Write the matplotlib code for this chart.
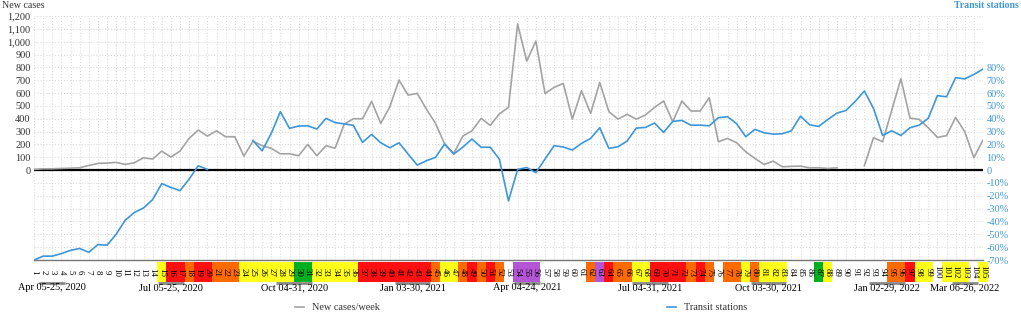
import matplotlib
matplotlib.use("Agg")
import matplotlib.pyplot as plt
from matplotlib.lines import Line2D
from matplotlib.ticker import FuncFormatter, MultipleLocator

plt.rcParams['font.family'] = ['Liberation Serif', 'DejaVu Serif']

# --- data -------------------------------------------------------------
weeks = list(range(1, 106))

new_cases = [5, 10, 10, 13, 15, 18, 36, 52, 55, 60,
             44, 57, 96, 86, 148, 101, 148, 247, 312, 265,
             306, 260, 260, 109, 225, 190, 169, 127, 127, 112,
             200, 112, 190, 171, 358, 400, 400, 535, 364, 494,
             701, 584, 597, 475, 364, 203, 130, 265, 306, 403,
             348, 438, 488, 1138, 849, 1005, 597, 644, 675, 397,
             618, 442, 683, 455, 397, 434, 397, 429, 488, 538,
             377, 538, 460, 460, 564, 221, 247, 213, 143, 91,
             44, 70, 26, 29, 31, 18, 18, 13, 18, None,
             None, 34, 252, 221, 466, 711, 405, 395, 330, 255,
             268, 410, 299, 96, 234]

transit = [-70, -67, -67, -65, -62.5, -61, -64, -58, -58.5, -50,
           -39, -33, -29.5, -23, -10.5, -13.5, -16, -7, 3.4, 0.5,
           None, None, None, None, 23, 15, 28.6, 45.5, 32.5, 34.3,
           34.5, 32, 40.3, 37, 36, 34.8, 21.6, 27.8, 21.3, 17.4,
           21.3, 12.5, 3.9, 7.3, 9.9, 20.3, 12.5, 17.9, 24.2, 17.8,
           17.8, 8.5, -24, 0.5, 2, -2, 8.6, 19, 18, 15.6,
           20.8, 24.7, 33, 16.9, 18.2, 22.6, 32.7, 33.2, 36.6, 29.4,
           37.9, 38.7, 35, 35, 34.5, 40.8, 41.6, 36.1, 26, 31.7,
           29.1, 28, 28.3, 30.6, 42, 35.3, 34, 39.5, 44.4, 46.5,
           53.5, 61.6, 48, 27, 30.6, 27, 33, 35, 40.3, 58,
           57.1, 72, 71, 74.5, 78.7]

# alert level of each week: W none, Y yellow, O orange, R red, G green, P purple
week_level = list("WWWWWWWWWWWWWW" "Y" "RR" "O" "RR" "OOO" "YYYYYY" "GG"
                  "YYYYY" "RRRRRRRR" "O" "YY" "O" "R" "O" "R" "O" "W" "PPP"
                  "WWWWW" "O" "P" "R" "OO" "YY" "RRRR" "O" "R" "O" "W" "OO"
                  "Y" "O" "YYY" "WWW" "G" "Y" "WWWWWW" "OO" "R" "YY" "W"
                  "YYY" "W" "Y")

period_labels = ["Apr 05-25, 2020", "Jul 05-25, 2020", "Oct 04-31, 2020",
                 "Jan 03-30, 2021", "Apr 04-24, 2021", "Jul 04-31, 2021",
                 "Oct 03-30, 2021", "Jan 02-29, 2022", "Mar 06-26, 2022"]
period_start = [2, 15, 28, 41, 54, 67, 80, 93, 102]
period_end = [4, 17, 31, 44, 56, 70, 83, 96, 104]

level_colors = {"Y": "#ffff1a", "O": "#ff6a00", "R": "#ff1010",
                "G": "#00b020", "P": "#b455d6"}

GRAY = "#a3a3a3"
BLUE = "#3d96da"
TXT = "#333333"
FS = 7.4

# --- figure -----------------------------------------------------------
W, H = 1021, 313
fig = plt.figure(figsize=(W / 100, H / 100), dpi=100)

x0, x1 = 34, 983
ax = fig.add_axes([x0 / W, (H - 260) / H, (x1 - x0) / W, (260 - 16) / H])
ax.set_xlim(1, 105)
ax.set_ylim(-700, 1200)
ax.xaxis.set_major_locator(MultipleLocator(1))
ax.grid(True, color="#dddddd", linestyle=":", linewidth=0.8)
ax.set_axisbelow(True)
ax.tick_params(axis="x", length=0, labelbottom=False)
ax.tick_params(axis="y", length=0, labelsize=FS, colors=TXT, pad=2.5)
ax.set_yticks(range(0, 1201, 100))
ax.yaxis.set_major_formatter(FuncFormatter(lambda v, p: f"{int(v):,}"))
# keep the gridlines below zero too
ax.set_yticks(range(-700, 1201, 100), minor=True)
ax.grid(True, which="minor", axis="y", color="#dddddd", linestyle=":", linewidth=0.8)
ax.tick_params(axis="y", which="minor", length=0)
for s in ["left", "right", "top"]:
    ax.spines[s].set_visible(False)
ax.spines["bottom"].set_color("#777777")
ax.spines["bottom"].set_linewidth(1.0)

ax.axhline(0, color="black", linewidth=1.6, zorder=3)
ax.plot(weeks, [float("nan") if v is None else v for v in new_cases],
        color=GRAY, linewidth=1.2, zorder=4)

ax2 = ax.twinx()
ax2.set_ylim(-70, 120)
ax2.set_yticks(range(-70, 81, 10))
ax2.yaxis.set_major_formatter(FuncFormatter(lambda v, p: "0" if v == 0 else f"{int(v)}%"))
ax2.tick_params(axis="y", length=0, labelsize=FS, colors=BLUE, pad=2.5)
for s in ax2.spines.values():
    s.set_visible(False)
ax2.plot(weeks, [float("nan") if v is None else v for v in transit],
         color=BLUE, linewidth=1.2, zorder=5)

fig.text(2 / W, 1 - 6 / H, "New cases", fontsize=7.2, color=TXT, va="center", ha="left")
fig.text(1019 / W, 1 - 6 / H, "Transit stations", fontsize=7, color=BLUE,
         va="center", ha="right", fontweight="bold")

# --- week band ------------------------------------------------------
half = (x1 - x0) / 104 / 2
bax = fig.add_axes([(x0 - half) / W, (H - 282) / H, (x1 - x0 + 2 * half) / W, 20 / H])
bax.set_xlim(0.5, 105.5)
bax.set_ylim(0, 1)
bax.axis("off")
for w, lvl in zip(weeks, week_level):
    if lvl != "W":
        bax.bar(w, 1, width=1, bottom=0, color=level_colors[lvl], linewidth=0)
    bax.text(w, 0.5, str(w), rotation=-90, ha="center", va="center",
             fontsize=6.4, color="black")

for lab, a, b in zip(period_labels, period_start, period_end):
    bax.plot([a - 0.45, b + 0.45], [-0.06, -0.06], color="#888888",
             linewidth=2, clip_on=False, solid_capstyle="butt")
    bax.text((a + b) / 2, -0.3, lab, ha="center", va="center", fontsize=FS,
             color="black", clip_on=False)

# --- legend ---------------------------------------------------------
ly = 1 - 307 / H
fig.add_artist(Line2D([295 / W, 304 / W], [ly, ly], color=GRAY, linewidth=1.2))
fig.text(312 / W, ly, "New cases/week", fontsize=FS, color=TXT, va="center", ha="left")
fig.add_artist(Line2D([667 / W, 676 / W], [ly, ly], color=BLUE, linewidth=1.2))
fig.text(684 / W, ly, "Transit stations", fontsize=FS, color=TXT, va="center", ha="left")

fig.savefig("out.png", dpi=100)
